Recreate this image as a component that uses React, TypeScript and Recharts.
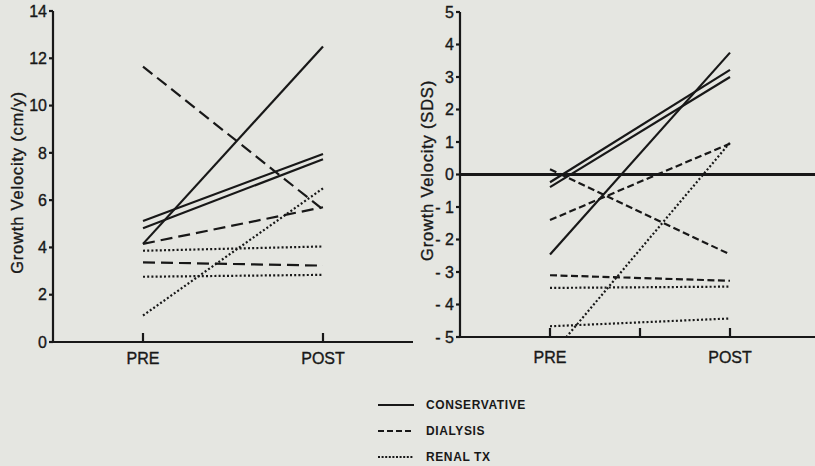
import React from 'react';
import { LineChart, Line, XAxis, YAxis, ReferenceLine } from 'recharts';

// phases on the x axis
const phases = ['PRE', 'POST'];

// growth velocity in cm/y, one [pre, post] pair per patient
const cmConservative = [[4.15, 12.5], [5.12, 7.95], [4.81, 7.73]];
const cmDialysis = [[11.65, 5.6], [4.15, 5.7], [3.37, 3.23]];
const cmRenalTx = [[3.86, 4.04], [2.76, 2.84], [1.12, 6.5]];

// growth velocity in SDS
const sdsConservative = [[-2.46, 3.75], [-0.24, 3.22], [-0.39, 3.0]];
const sdsDialysis = [[0.16, -2.46], [-1.4, 0.95], [-3.1, -3.27]];
const sdsRenalTx = [[-3.49, -3.45], [-4.67, -4.43], [-5.6, 0.98]];

const cmTicks = [0, 2, 4, 6, 8, 10, 12, 14];
const sdsTicks = [-5, -4, -3, -2, -1, 0, 1, 2, 3, 4, 5];

const groups = ['CONSERVATIVE', 'DIALYSIS', 'RENAL TX'];

const INK = '#181818';
const PAPER = '#e5e6e1';
const FONT = '"Liberation Sans", Arial, sans-serif';

function buildRows(sets: number[][][]) {
  return phases.map((_, i) => {
    const row: Record<string, number> = { x: i };
    sets.forEach((set, g) => set.forEach((pair, k) => { row[`g${g}s${k}`] = pair[i]; }));
    return row;
  });
}

const cmRows = buildRows([cmConservative, cmDialysis, cmRenalTx]);
const sdsRows = buildRows([sdsConservative, sdsDialysis, sdsRenalTx]);

function AxisTitle(props: any) {
  const { viewBox, value, cx, dy } = props;
  const x = viewBox.x + cx;
  const y = viewBox.y + viewBox.height / 2 + dy;
  return (
    <text x={x} y={y} transform={`rotate(-90 ${x} ${y})`} textAnchor="middle" dominantBaseline="central"
      fill={INK} stroke={INK} strokeWidth={0.35} fontSize={16.5} letterSpacing={0.8} fontFamily={FONT}>
      {value}
    </text>
  );
}

const phaseLabel = (v: number) => (v === 0 ? 'PRE' : v === 1 ? 'POST' : '');

function Panel({ rows, ticks, title, dashes, dots, sds }: any) {
  const top = sds ? 12 : 11;
  const bottom = sds ? 13 : 8;
  const tickStyle = { fill: INK, stroke: INK, strokeWidth: 0.35, fontSize: 16, fontFamily: FONT };
  const axisStroke = { stroke: INK, strokeWidth: 2.2 };
  const dashFor = [undefined, dashes, dots];
  return (
    <LineChart width={430} height={380} data={rows} margin={{ top, right: 17, bottom, left: 0 }}>
      <XAxis dataKey="x" type="number" domain={[-0.5, 1.5]} ticks={sds ? [0, 0.5, 1] : [0, 1]}
        tickFormatter={phaseLabel} tick={tickStyle} axisLine={axisStroke} tickLine={axisStroke}
        tickSize={-9} tickMargin={sds ? 24 : 20} height={30} interval={0} />
      <XAxis xAxisId="frame" orientation="top" type="number" domain={[-0.5, 1.5]} tick={false}
        tickLine={false} axisLine={axisStroke} height={0} />
      <YAxis type="number" domain={[ticks[0], ticks[ticks.length - 1]]} ticks={ticks} interval={0}
        allowDataOverflow tickFormatter={(v: number) => (v < 0 ? `- ${Math.abs(v)}` : `${v}`)}
        tick={tickStyle} axisLine={axisStroke} tickLine={axisStroke} tickSize={4} tickMargin={2} width={53}
        label={<AxisTitle value={title} cx={sds ? 20 : 17} dy={sds ? -4 : 6} />} />
      <YAxis yAxisId="frame" orientation="right" type="number" domain={[0, 1]} tick={false}
        tickLine={false} axisLine={axisStroke} width={0} />
      {sds && <ReferenceLine y={0} stroke={INK} strokeWidth={3} />}
      {[0, 1, 2].map((g) => [0, 1, 2].map((k) => (
        <Line key={`g${g}s${k}`} dataKey={`g${g}s${k}`} type="linear" stroke={INK} strokeWidth={2.2}
          strokeDasharray={dashFor[g]} dot={false} activeDot={false} isAnimationActive={false} />
      )))}
    </LineChart>
  );
}

function LegendKey() {
  const dash = [undefined, '6 3', '2 1.6'];
  return (
    <div style={{ position: 'absolute', left: 378, top: 392 }}>
      {groups.map((name, i) => (
        <div key={name} style={{ display: 'flex', alignItems: 'center', height: 26 }}>
          <svg width={36} height={6} style={{ marginRight: 12 }}>
            <line x1={0} y1={3} x2={36} y2={3} stroke={INK} strokeWidth={2.2} strokeDasharray={dash[i]} />
          </svg>
          <span style={{ fontFamily: FONT, fontWeight: 700, fontSize: 12, letterSpacing: 0.6, color: INK }}>{name}</span>
        </div>
      ))}
    </div>
  );
}

export default function App() {
  return (
    <div style={{ position: 'fixed', left: 0, top: 0, width: 815, height: 466, overflow: 'hidden', background: PAPER }}>
      <div style={{ position: 'absolute', left: 0, top: 0 }}>
        <Panel rows={cmRows} ticks={cmTicks} title="Growth Velocity (cm/y)" dashes="12 6" dots="2 2.2" />
      </div>
      <div style={{ position: 'absolute', left: 407, top: 0 }}>
        <Panel rows={sdsRows} ticks={sdsTicks} title="Growth Velocity (SDS)" dashes="7 3.5" dots="2 2.2" sds />
      </div>
      <LegendKey />
    </div>
  );
}
